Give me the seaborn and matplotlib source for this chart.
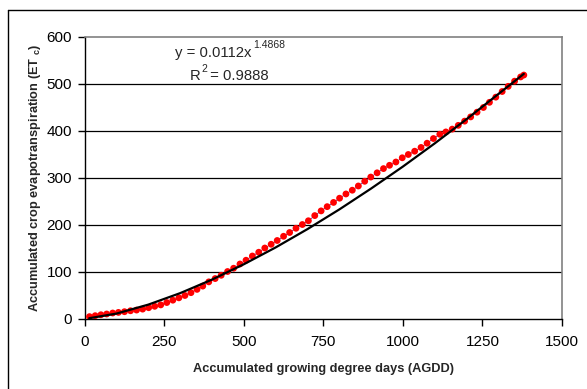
import seaborn as sns
import matplotlib.pyplot as plt
from matplotlib.lines import Line2D
import pandas as pd

# accumulated growing degree days vs accumulated ETc
agdd = [15, 33, 51, 69, 88, 106, 125, 144, 163, 182, 201, 220, 239, 258, 277,
        296, 315, 334, 353, 371, 390, 410, 429, 449, 468, 488, 507, 527, 547,
        566, 586, 605, 625, 644, 664, 684, 703, 723, 743, 762, 782, 801, 821,
        841, 860, 880, 899, 919, 939, 958, 978, 998, 1017, 1037, 1057, 1076,
        1096, 1116, 1135, 1155, 1174, 1194, 1213, 1233, 1253, 1272, 1292, 1312,
        1331, 1351, 1370, 1380]
etc = [4, 6, 8, 9.6, 11.7, 13, 14.5, 16.5, 18, 20, 23, 26, 29, 34, 39,
       44, 49, 55, 62, 69, 78, 85, 92, 100, 107, 116, 124, 133, 141,
       150, 158, 166, 175, 183, 192, 200, 208, 219, 229, 238, 247, 256, 265,
       273, 282, 292, 301, 310, 319, 326, 333, 342, 349, 356, 364, 373,
       383, 392, 397, 403, 411, 420, 429, 439, 449, 460, 471, 483,
       494, 505, 514, 518]

# power trendline as drawn on the chart
trend_x = [14, 100, 200, 300, 400, 500, 600, 700, 800, 900, 1000, 1100, 1200, 1300, 1380]
trend_y = [0.6, 10.5, 29.6, 54.0, 82.8, 115.4, 151.2, 190.2, 232.0, 276.5, 323.3, 372.6, 424.1, 477.7, 520.5]

x_ticks = [0, 250, 500, 750, 1000, 1250, 1500]
y_ticks = [0, 100, 200, 300, 400, 500, 600]

df = pd.DataFrame({"AGDD": agdd, "ETc": etc})
df_trend = pd.DataFrame({"AGDD": trend_x, "ETc": trend_y})

sns.set_style("white")
plt.rcParams['font.family'] = ['Liberation Sans', 'DejaVu Sans']
plt.rcParams['mathtext.fontset'] = 'custom'
plt.rcParams['mathtext.rm'] = 'Liberation Sans'
plt.rcParams['mathtext.bf'] = 'Liberation Sans:bold'

fig = plt.figure(figsize=(5.87, 3.89), dpi=100)
ax = fig.add_axes([0.1443, 0.1812, 0.8131, 0.7249])

# outer chart frame: only left and top edges are inside the picture
fx = 7.5 / 587
fy = 1 - 9.5 / 389
fig.lines.append(Line2D([fx, fx], [0, fy], transform=fig.transFigure, color='black', lw=1.0))
fig.lines.append(Line2D([fx, 1], [fy, fy], transform=fig.transFigure, color='black', lw=1.0))

for yv in y_ticks[1:-1]:
    ax.axhline(yv, color='black', lw=0.9, zorder=1)

ax.plot(df["AGDD"], df["ETc"], color='#2a2aa0', lw=0.5, zorder=2)
sns.scatterplot(data=df, x="AGDD", y="ETc", ax=ax, color='#ff0000', s=24,
                edgecolor='none', zorder=3, legend=False)
sns.lineplot(data=df_trend, x="AGDD", y="ETc", ax=ax, color='black', lw=1.6,
             zorder=4, legend=False)

ax.set_xlim(0, 1500)
ax.set_ylim(0, 600)
ax.set_xticks(x_ticks)
ax.set_yticks(y_ticks)
ax.tick_params(axis='both', direction='out', length=5, width=1, labelsize=11,
               colors='black')
ax.tick_params(axis='x', pad=7)
ax.tick_params(axis='y', pad=4)
ax.tick_params(axis='both', which='both', bottom=True, left=True)
for side in ['left', 'bottom']:
    ax.spines[side].set_color('black')
    ax.spines[side].set_linewidth(1.0)
for side in ['top', 'right']:
    ax.spines[side].set_color('#808080')
    ax.spines[side].set_linewidth(1.2)

ax.set_xlabel("Accumulated growing degree days (AGDD)", fontsize=9.2, fontweight='bold',
              labelpad=10)
ax.set_ylabel(r"Accumulated crop evapotranspiration (ET $_{\mathbf{c}}$)", fontsize=9.2,
              fontweight='bold', labelpad=3)

fig.text(175 / 587, 1 - 53 / 389, "y = 0.0112x", fontsize=10.7, va='center', ha='left')
fig.text(253 / 587, 1 - 45 / 389, "1.4868", fontsize=7.5, va='center', ha='left')
fig.text(190 / 587, 1 - 76 / 389, "R", fontsize=10.7, va='center', ha='left')
fig.text(201 / 587, 1 - 69 / 389, "2", fontsize=7.5, va='center', ha='left')
fig.text(206 / 587, 1 - 76 / 389, " = 0.9888", fontsize=10.7, va='center', ha='left')

fig.savefig("out.png", dpi=100)
